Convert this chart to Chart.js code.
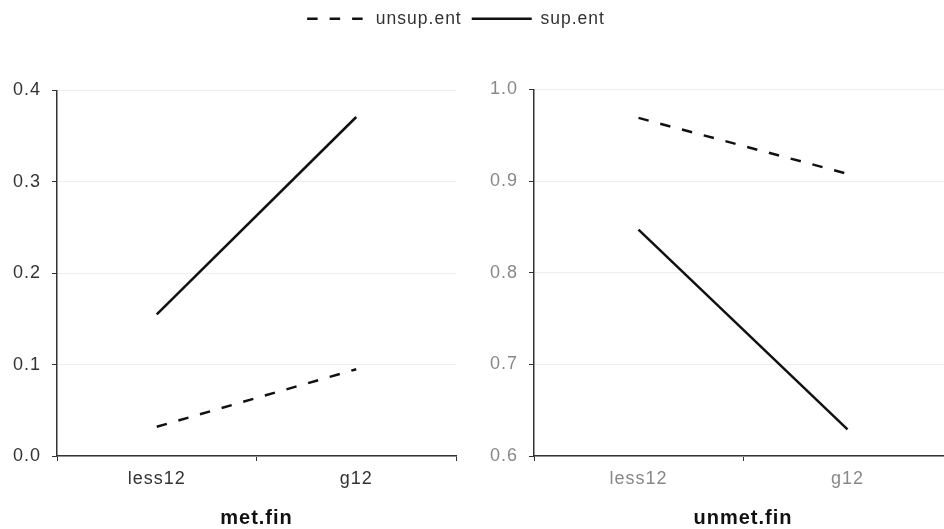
<!DOCTYPE html>
<html>
<head>
<meta charset="utf-8">
<script src="https://cdn.jsdelivr.net/npm/chart.js@4/dist/chart.umd.min.js"></script>
<style>
  html, body { margin: 0; padding: 0; background: #fff; overflow: hidden; width: 944px; height: 529px; }
  #wrap { position: relative; width: 944px; height: 529px; overflow: hidden; }
  canvas { position: absolute; top: 0; }
  #c1 { left: 0; }
  #c2 { left: 478px; }
</style>
</head>
<body>
<div id="wrap">
  <canvas id="c1" width="912" height="529"></canvas>
  <canvas id="c2" width="478" height="529"></canvas>
</div>
<script>
// ---- data ----
const categories = ['less12', 'g12'];
const seriesNames = ['unsup.ent', 'sup.ent'];
const metUnsup = [0.032, 0.095];
const metSup = [0.155, 0.371];
const unmetUnsup = [0.969, 0.908];
const unmetSup = [0.847, 0.629];
const panelTitles = ['met.fin', 'unmet.fin'];
const metTicks = [0.0, 0.1, 0.2, 0.3, 0.4];
const unmetTicks = [0.6, 0.7, 0.8, 0.9, 1.0];

const FONT = "'Liberation Sans', Arial, sans-serif";
const DASH = [10.5, 12];
const spacingPlugin = {
  id: 'spacing',
  beforeUpdate(c) { c.ctx.letterSpacing = '1px'; },
  beforeLayout(c) { c.ctx.letterSpacing = '1px'; },
  beforeDraw(c) { c.ctx.letterSpacing = '1px'; }
};

function makeDatasets(unsup, sup) {
  return [
    { label: seriesNames[0], data: unsup, borderColor: '#111', backgroundColor: '#111',
      borderWidth: 2.5, borderDash: DASH, pointRadius: 0, fill: false, tension: 0, pointStyle: 'line' },
    { label: seriesNames[1], data: sup, borderColor: '#111', backgroundColor: '#111',
      borderWidth: 2.5, pointRadius: 0, fill: false, tension: 0, pointStyle: 'line' }
  ];
}

function makeScales(ticksArr, labelColor, title, yWidth, extra) {
  const s = {
    x: {
      type: 'category',
      offset: true,
      grid: { display: true, offset: true, drawOnChartArea: false, drawTicks: true, tickLength: 5, tickColor: '#333', lineWidth: 1 },
      border: { display: true, color: '#333', width: 1.5 },
      ticks: { color: labelColor, font: { family: FONT, size: 18 }, padding: 7 },
      title: { display: true, text: title, color: '#111', font: { family: FONT, size: 20, weight: 'bold' }, padding: { top: 2, bottom: -1 } },
      afterFit(sc) { sc.height = 73; }
    },
    y: {
      type: 'linear',
      position: 'left',
      min: ticksArr[0],
      max: ticksArr[ticksArr.length - 1],
      afterBuildTicks(sc) { sc.ticks = ticksArr.map(v => ({ value: v })); },
      grid: { color: '#eeeeee', lineWidth: 1, drawTicks: true, tickLength: 5, tickColor: '#333' },
      border: { display: true, color: '#333', width: 1.5 },
      ticks: { color: labelColor, font: { family: FONT, size: 18 }, padding: 11, callback: v => Number(v).toFixed(1) },
      afterFit(sc) { sc.width = yWidth; }
    }
  };
  return Object.assign(s, extra || {});
}

new Chart(document.getElementById('c1'), {
  type: 'line',
  data: { labels: categories, datasets: makeDatasets(metUnsup, metSup) },
  options: {
    responsive: false,
    animation: false,
    layout: { padding: { top: 0, right: 0, bottom: 0, left: 0 } },
    plugins: {
      legend: {
        display: true,
        position: 'top',
        align: 'center',
        weight: 1000,
        labels: {
          usePointStyle: true, pointStyle: 'line', pointStyleWidth: 60, color: '#333',
          font: { family: FONT, size: 17.5 }, padding: 10,
          generateLabels(chart) {
            const items = Chart.defaults.plugins.legend.labels.generateLabels(chart);
            items.forEach(it => {
              const ds = chart.data.datasets[it.datasetIndex];
              it.lineDash = ds.borderDash || [];
              it.lineWidth = ds.borderWidth;
              it.strokeStyle = ds.borderColor;
            });
            return items;
          }
        }
      },
      // empty spacer below the legend
      title: { display: true, text: '', position: 'top', weight: 500, font: { size: 10 }, padding: { top: 0, bottom: 41 } },
      tooltip: { enabled: false }
    },
    scales: makeScales(metTicks, '#333', panelTitles[0], 57, {
      pad: {
        type: 'linear', position: 'right', display: true,
        grid: { display: false, drawTicks: false }, border: { display: false },
        ticks: { display: false },
        afterFit(sc) { sc.width = 456; }
      }
    })
  },
  plugins: [spacingPlugin]
});

new Chart(document.getElementById('c2'), {
  type: 'line',
  data: { labels: categories, datasets: makeDatasets(unmetUnsup, unmetSup) },
  options: {
    responsive: false,
    animation: false,
    layout: { padding: { top: 89.5, right: 4, bottom: 0, left: 0 } },
    plugins: { legend: { display: false }, tooltip: { enabled: false } },
    scales: makeScales(unmetTicks, '#888', panelTitles[1], 56)
  },
  plugins: [spacingPlugin]
});
</script>
</body>
</html>
